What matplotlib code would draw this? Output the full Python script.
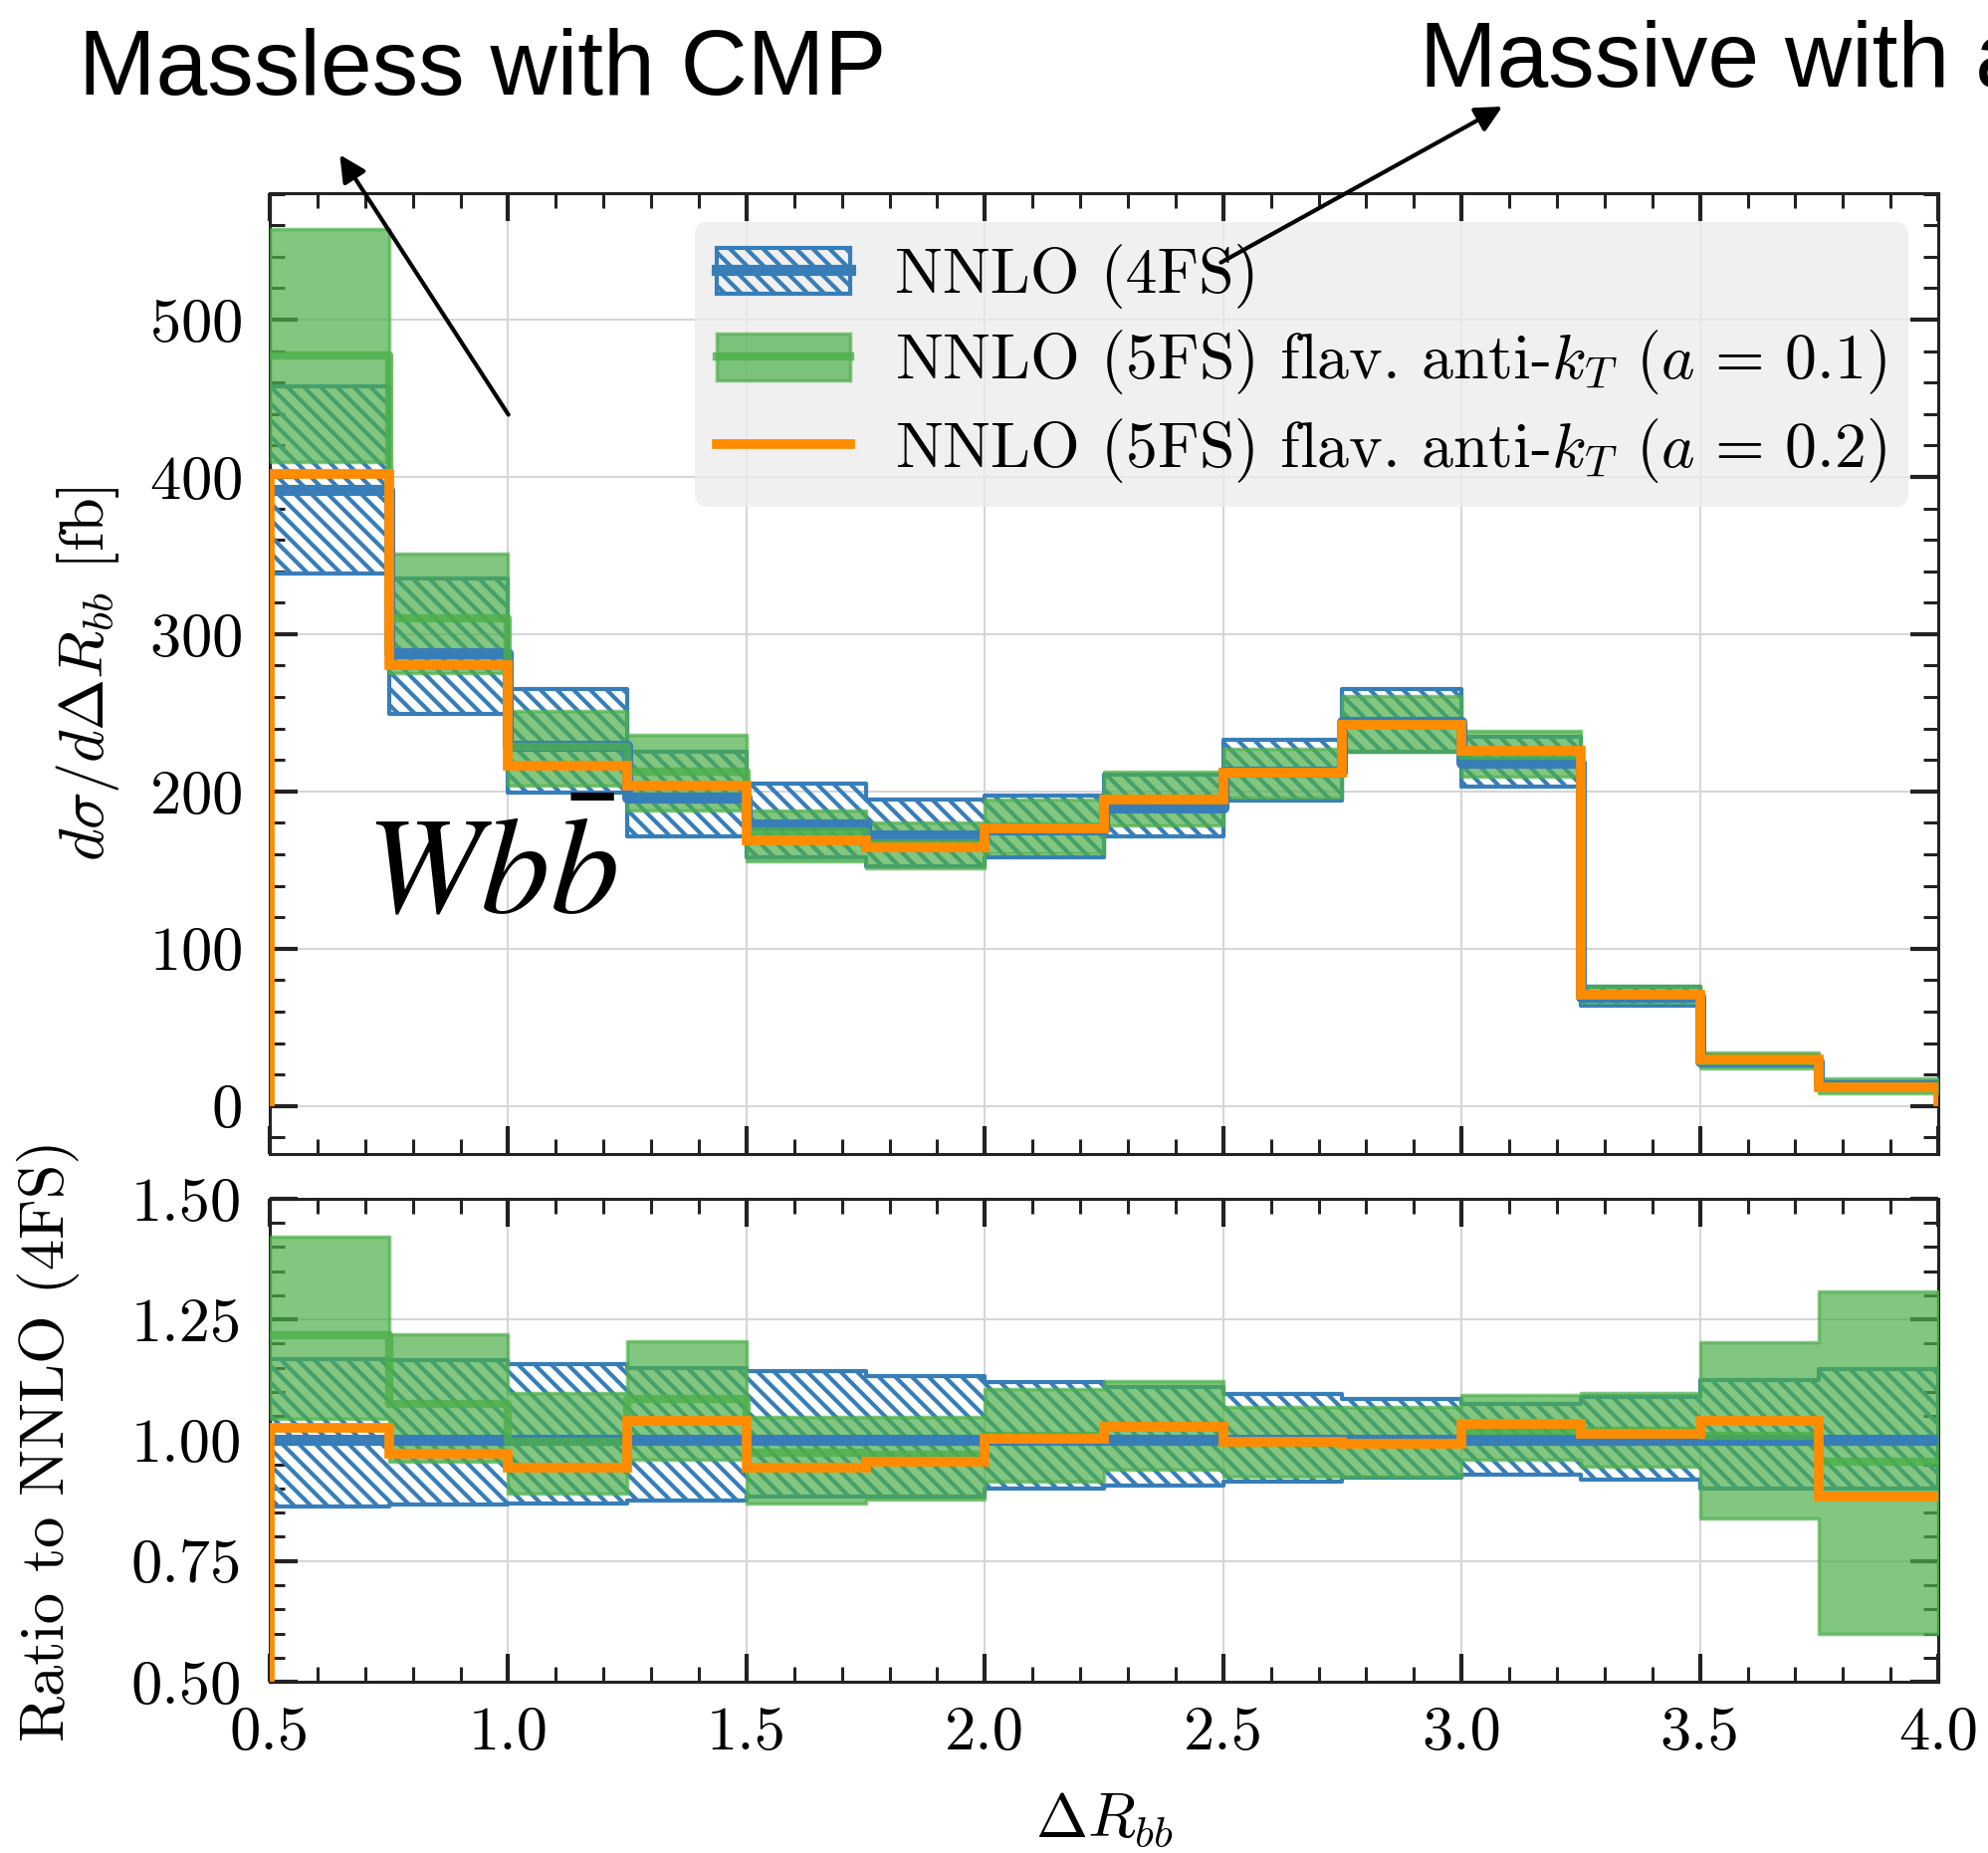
import numpy as np
import matplotlib
matplotlib.use("Agg")
import matplotlib.pyplot as plt
from matplotlib.patches import Patch, FancyArrowPatch
from matplotlib.lines import Line2D
from matplotlib.legend_handler import HandlerTuple
from matplotlib.ticker import MultipleLocator, FormatStrFormatter

# bin edges in Delta R_bb
edges = [0.5, 0.75, 1.0, 1.25, 1.5, 1.75, 2.0, 2.25, 2.5, 2.75, 3.0, 3.25, 3.5, 3.75, 4.0]

# NNLO (4FS) central value [fb]
xs_4fs = [392.0, 288.0, 229.0, 195.8, 179.1, 172.3, 176.0, 189.5, 212.5, 244.0, 218.5, 69.5, 28.3, 13.3]

# everything else as ratio to NNLO (4FS)
ratio_4fs_lo = [0.863, 0.866, 0.870, 0.876, 0.883, 0.883, 0.900, 0.906, 0.915, 0.922, 0.929, 0.918, 0.900, 0.900]
ratio_4fs_hi = [1.167, 1.165, 1.157, 1.150, 1.144, 1.132, 1.120, 1.110, 1.096, 1.086, 1.075, 1.090, 1.124, 1.148]

ratio_a01 = [1.218, 1.076, 0.997, 1.086, 0.975, 0.970, 1.010, 1.030, 0.995, 0.995, 1.020, 1.020, 1.010, 0.955]
ratio_a01_lo = [1.045, 0.955, 0.890, 0.959, 0.870, 0.878, 0.914, 0.940, 0.924, 0.924, 0.959, 0.945, 0.839, 0.598]
ratio_a01_hi = [1.422, 1.220, 1.098, 1.205, 1.048, 1.048, 1.106, 1.122, 1.069, 1.069, 1.093, 1.098, 1.203, 1.309]

ratio_a02 = [1.025, 0.973, 0.944, 1.041, 0.944, 0.955, 1.003, 1.027, 0.997, 0.992, 1.033, 1.014, 1.041, 0.883]

labels = ["NNLO (4FS)",
          r"NNLO (5FS) flav. anti-$k_T$ ($a\,=\,0.1$)",
          r"NNLO (5FS) flav. anti-$k_T$ ($a\,=\,0.2$)"]

BLUE = "#377eb8"
GREEN = "#4daf4a"
ORANGE = "#ff8c00"
HATCH = "\\\\"

plt.rcParams["font.family"] = "serif"
plt.rcParams["font.serif"] = ["cmr10"]
plt.rcParams["mathtext.fontset"] = "cm"
plt.rcParams["axes.formatter.use_mathtext"] = True
plt.rcParams["axes.unicode_minus"] = False
plt.rcParams["hatch.linewidth"] = 3.0
plt.rcParams["hatch.color"] = BLUE
FS = 45


def ext(v):
    v = np.asarray(v, dtype=float)
    return np.append(v, v[-1])


def draw_panel(ax, norm):
    norm = np.asarray(norm, dtype=float)
    ax.fill_between(edges, ext(np.multiply(ratio_4fs_lo, norm)), ext(np.multiply(ratio_4fs_hi, norm)),
                    step="post", facecolor="none", edgecolor=BLUE, hatch=HATCH, lw=3, zorder=2)
    ax.fill_between(edges, ext(np.multiply(ratio_a01_lo, norm)), ext(np.multiply(ratio_a01_hi, norm)),
                    step="post", facecolor=GREEN, edgecolor=GREEN, alpha=0.7, lw=2.5, zorder=3)
    ax.step(edges, ext(norm), where="post", color=BLUE, lw=8, zorder=4)
    ax.step(edges, ext(np.multiply(ratio_a01, norm)), where="post", color=GREEN, lw=6, alpha=0.8, zorder=5)


fig = plt.figure(figsize=(19.97, 18.61), dpi=100)
ax1 = fig.add_axes([0.1357, 0.3772, 0.8393, 0.5188])
ax2 = fig.add_axes([0.1357, 0.0924, 0.8393, 0.2607])

# top panel: cross section
draw_panel(ax1, xs_4fs)
ax1.stairs(np.multiply(ratio_a02, xs_4fs), edges, baseline=0, color=ORANGE, lw=7, zorder=6)

# bottom panel: ratio
draw_panel(ax2, np.ones(len(xs_4fs)))
ax2.stairs(ratio_a02, edges, baseline=None, color=ORANGE, lw=7, zorder=6)
ax2.vlines(edges[0], 0, ratio_a02[0], color=ORANGE, lw=7, zorder=6)

ax1.set_xlim(0.5, 4.0)
ax1.set_ylim(-30.6, 580.7)
ax2.set_xlim(0.5, 4.0)
ax2.set_ylim(0.5, 1.5)

ax1.yaxis.set_major_locator(MultipleLocator(100))
ax1.yaxis.set_minor_locator(MultipleLocator(20))
ax2.yaxis.set_major_locator(MultipleLocator(0.25))
ax2.yaxis.set_minor_locator(MultipleLocator(0.05))
ax2.yaxis.set_major_formatter(FormatStrFormatter("%.2f"))
ax2.xaxis.set_major_formatter(FormatStrFormatter("%.1f"))

for ax in (ax1, ax2):
    ax.xaxis.set_major_locator(MultipleLocator(0.5))
    ax.xaxis.set_minor_locator(MultipleLocator(0.1))
    ax.set_axisbelow(True)
    ax.grid(which="major", color="#d6d6d6", lw=1.5)
    ax.tick_params(which="both", direction="in", top=True, right=True,
                   labelsize=FS, color="#222222")
    ax.tick_params(which="major", length=20, width=3)
    ax.tick_params(which="minor", length=11, width=2.2)
    ax.tick_params(axis="y", pad=20)
    ax.tick_params(axis="x", pad=18)
    for sp in ax.spines.values():
        sp.set_linewidth(2.2)
        sp.set_color("#222222")

ax1.tick_params(labelbottom=False)

ax1.set_ylabel(r"$d\sigma/d\Delta R_{bb}$ [fb]", fontsize=FS)
ax1.yaxis.set_label_coords(-0.089, 0.5)
ax2.set_ylabel("Ratio to NNLO (4FS)", fontsize=FS)
ax2.yaxis.set_label_coords(-0.114, 0.5)
ax2.set_xlabel(r"$\Delta R_{bb}$", fontsize=FS)
ax2.xaxis.set_label_coords(0.5, -0.225)

h4 = (Patch(facecolor="none", edgecolor=BLUE, hatch=HATCH, lw=3),
      Line2D([], [], color=BLUE, lw=8))
h5a = (Patch(facecolor=GREEN, edgecolor=GREEN, alpha=0.7, lw=2.5),
       Line2D([], [], color=GREEN, lw=6, alpha=0.8))
h5b = Line2D([], [], color=ORANGE, lw=7)
leg = ax1.legend([h4, h5a, h5b], labels, handler_map={tuple: HandlerTuple(ndivide=1, pad=0)},
                 loc="upper right", bbox_to_anchor=(0.982, 0.9696), borderaxespad=0,
                 fontsize=46, handlelength=2.1, handleheight=0.75, handletextpad=0.7,
                 borderpad=0.35, labelspacing=0.3, facecolor="#ececec",
                 edgecolor="none", framealpha=0.75, fancybox=True)
leg.set_zorder(10)

# annotations on top of the figure
W, H = 1997.0, 1861.0
fig.text(79 / W, 1 - 95.5 / H, "Massless with CMP", fontsize=67,
         family="Liberation Sans", va="baseline", ha="left")
fig.text(1426 / W, 1 - 86.6 / H, "Massive with a", fontsize=67,
         family="Liberation Sans", va="baseline", ha="left")
fig.text(367 / W, 1 - 917 / H, r"$Wb\bar{b}$", fontsize=100,
         math_fontfamily="stix", va="baseline", ha="left")

arrows = [((510.7, 416.5), (341.3, 155.4)),
          ((1226.5, 263.6), (1509.2, 107.0))]
for (x0, y0), (x1, y1) in arrows:
    fig.add_artist(FancyArrowPatch((x0 / W, 1 - y0 / H), (x1 / W, 1 - y1 / H),
                                   transform=fig.transFigure, arrowstyle="-|>",
                                   mutation_scale=40, lw=3, color="black",
                                   shrinkA=0, shrinkB=0, zorder=20))

fig.savefig("out.png", dpi=100)
